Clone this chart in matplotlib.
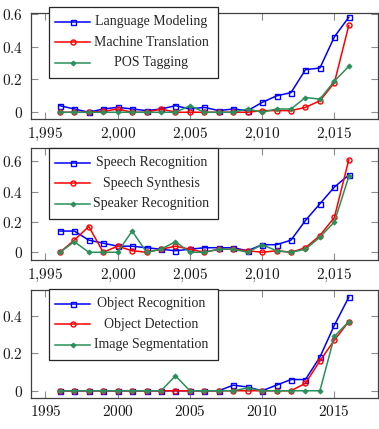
import numpy as np
import matplotlib
matplotlib.use("Agg")
import matplotlib.pyplot as plt
from matplotlib.patches import Rectangle
from matplotlib.lines import Line2D
from matplotlib.ticker import FuncFormatter

plt.rcParams['font.family'] = ['Liberation Serif', 'DejaVu Serif']
plt.rcParams['mathtext.fontset'] = 'cm'

# ==================== data ====================
years = list(range(1996, 2017))

# panel 1
language_modeling = [0.04, 0.02, 0.0, 0.02, 0.03, 0.02, 0.01, 0.02, 0.04, 0.02, 0.03,
                     0.01, 0.02, 0.01, 0.06, 0.10, 0.12, 0.26, 0.27, 0.46, 0.58]
machine_translation = [0.0, 0.0, 0.0, 0.005, 0.02, 0.0, 0.0, 0.02, 0.0, 0.0, 0.0,
                       0.0, 0.0, 0.0, 0.01, 0.01, 0.01, 0.03, 0.07, 0.18, 0.53]
pos_tagging = [0.0, 0.0, 0.0, 0.0, 0.0, 0.0, 0.0, 0.0, 0.0, 0.04, 0.0,
               0.0, 0.0, 0.02, 0.0, 0.02, 0.02, 0.09, 0.08, 0.19, 0.28]

# panel 2
speech_recognition = [0.14, 0.14, 0.08, 0.06, 0.04, 0.04, 0.03, 0.02, 0.01, 0.02, 0.03,
                      0.03, 0.03, 0.01, 0.05, 0.05, 0.08, 0.21, 0.32, 0.43, 0.51]
speech_synthesis = [0.0, 0.08, 0.17, 0.0, 0.04, 0.01, 0.0, 0.02, 0.04, 0.02, 0.0,
                    0.02, 0.02, 0.01, 0.0, 0.01, 0.0, 0.03, 0.11, 0.23, 0.61]
speaker_recognition = [0.0, 0.07, 0.0, 0.0, 0.0, 0.14, 0.0, 0.02, 0.07, 0.0, 0.0,
                       0.02, 0.02, 0.0, 0.05, 0.01, 0.0, 0.02, 0.10, 0.20, 0.50]

# panel 3
object_recognition = [0.0, 0.0, 0.0, 0.0, 0.0, 0.0, 0.0, 0.0, 0.0, 0.0, 0.0,
                      0.0, 0.03, 0.02, 0.0, 0.03, 0.06, 0.06, 0.18, 0.35, 0.50]
object_detection = [0.0, 0.0, 0.0, 0.0, 0.0, 0.0, 0.0, 0.0, 0.0, 0.0, 0.0,
                    0.0, 0.0, 0.0, 0.0, 0.0, 0.0, 0.04, 0.16, 0.27, 0.37]
image_segmentation = [0.0, 0.0, 0.0, 0.0, 0.0, 0.0, 0.0, 0.0, 0.08, 0.0, 0.0,
                      0.0, 0.0, 0.015, 0.0, 0.0, 0.0, 0.0, 0.0, 0.29, 0.37]

labels1 = ['Language Modeling', 'Machine Translation', 'POS Tagging']
labels2 = ['Speech Recognition', 'Speech Synthesis', 'Speaker Recognition']
labels3 = ['Object Recognition', 'Object Detection', 'Image Segmentation']

blue = '#0000ff'
red = '#ff0000'
green = '#2a8f5a'
styles = [dict(color=blue, marker='s', ms=3.6, mfc='none', mew=1.0),
          dict(color=red, marker='o', ms=3.6, mfc='none', mew=1.0),
          dict(color=green, marker='D', ms=2.6, mfc=green, mew=0.6)]

W, H = 379, 429
fig = plt.figure(figsize=(W / 100, H / 100), dpi=100)

# axes boxes in pixels: (top, bottom)
boxes = [(13.3, 119.3), (148.3, 260.0), (289.5, 397.5)]
ylims = [(-0.043, 0.604), (-0.051, 0.686), (-0.036, 0.541)]
yticks = [[0, 0.2, 0.4, 0.6], [0, 0.2, 0.4, 0.6], [0, 0.2, 0.4]]
legend_tops = [7.0, 148.0, 289.0]
series = [[language_modeling, machine_translation, pos_tagging],
          [speech_recognition, speech_synthesis, speaker_recognition],
          [object_recognition, object_detection, image_segmentation]]
all_labels = [labels1, labels2, labels3]

left_px, right_px = 31.0, 377.7


def fx(px):
    return px / W


def fy(py):
    return 1 - py / H


def draw_legend(top, labels):
    bl, br, bh = 49, 218, 71
    fig.add_artist(Rectangle((fx(bl), fy(top + bh)), fx(br - bl), bh / H,
                             transform=fig.transFigure, facecolor='white',
                             edgecolor='0.15', lw=0.9, zorder=5))
    for i, lab in enumerate(labels):
        y = fy(top + 14.5 + 20.7 * i)
        st = styles[i]
        fig.add_artist(Line2D([fx(55), fx(90)], [y, y], color=st['color'], lw=1.1,
                              transform=fig.transFigure, zorder=6))
        fig.add_artist(Line2D([fx(72.5)], [y], linestyle='none', marker=st['marker'],
                              ms=st['ms'], mfc=st['mfc'], mec=st['color'], mew=st['mew'],
                              transform=fig.transFigure, zorder=6))
        fig.text(fx(151.5), y, lab, ha='center', va='center', fontsize=10,
                 color='0.15', zorder=7)


for k in range(3):
    top, bot = boxes[k]
    ax = fig.add_axes([fx(left_px), fy(bot), fx(right_px - left_px), (bot - top) / H])
    for vals, st in zip(series[k], styles):
        ax.plot(years, vals, color=st['color'], lw=1.1, marker=st['marker'], ms=st['ms'],
                mfc=st['mfc'], mec=st['color'], mew=st['mew'])
    ax.set_xlim(1994, 2018)
    ax.set_ylim(*ylims[k])
    ax.set_xticks(range(1995, 2016, 5))
    ax.set_yticks(yticks[k])
    if k < 2:
        ax.xaxis.set_major_formatter(FuncFormatter(
            lambda v, p: '$' + '{:,}'.format(int(round(v))).replace(',', '{,}') + '$'))
    else:
        ax.xaxis.set_major_formatter(FuncFormatter(lambda v, p: '$%d$' % int(round(v))))
    ax.yaxis.set_major_formatter(FuncFormatter(lambda v, p: '$%g$' % v))
    ax.tick_params(direction='in', length=5, width=0.8, color='0.55',
                   top=True, right=True, labelsize=11, labelcolor='0.1')
    ax.tick_params(axis='y', pad=6)
    ax.tick_params(axis='x', pad=5)
    for sp in ax.spines.values():
        sp.set_color('0.25')
        sp.set_linewidth(0.9)
    draw_legend(legend_tops[k], all_labels[k])

fig.savefig('out.png', dpi=100)
